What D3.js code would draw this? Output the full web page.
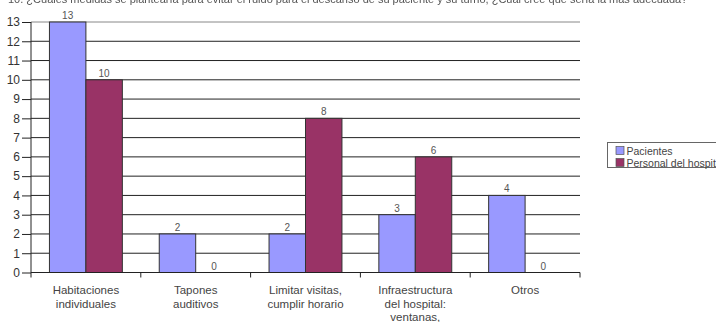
<!DOCTYPE html>
<html>
<head>
<meta charset="utf-8">
<script src="https://cdn.jsdelivr.net/npm/d3@7"></script>
<style>
  html, body { margin: 0; padding: 0; background: #fff; }
  svg { display: block; }
  text { font-family: "Liberation Sans", Arial, sans-serif; }
</style>
</head>
<body>
<svg id="chart" width="716" height="322"></svg>
<script>
// Medidas propuestas para reducir el ruido
const categories = [
  ["Habitaciones", "individuales"],
  ["Tapones", "auditivos"],
  ["Limitar visitas,", "cumplir horario"],
  ["Infraestructura", "del hospital:", "ventanas,"],
  ["Otros"]
];
const seriesNames = ["Pacientes", "Personal del hospital"];
const pacientes = [13, 2, 2, 3, 4];
const personal = [10, 0, 8, 6, 0];
const yTicks = d3.range(0, 14);
const colors = ["#9999ff", "#993366"];

const svg = d3.select("#chart");
const plot = { left: 31, right: 580, top: 22, bottom: 272.5 };

// Question heading, mostly scrolled off the top edge
svg.append("text")
  .attr("x", 8).attr("y", 2.5)
  .attr("font-size", 11).attr("fill", "#555")
  .style("filter", "blur(0.6px)")
  .text("10. ¿Cuáles medidas se plantearía para evitar el ruido para el descanso de su paciente y su turno, ¿Cuál cree que sería la más adecuada?");

const idx = d3.range(categories.length);
const x0 = d3.scaleBand().domain(idx).range([plot.left, plot.right])
  .paddingInner(0.336).paddingOuter(0.168);
const x1 = d3.scaleBand().domain([0, 1]).range([0, x0.bandwidth()]);
const y = d3.scaleLinear().domain([0, 13]).range([plot.bottom, plot.top]);

// Horizontal gridlines
svg.append("g").selectAll("line").data(yTicks.filter(d => d > 0)).join("line")
  .attr("x1", plot.left).attr("x2", plot.right)
  .attr("y1", d => y(d)).attr("y2", d => y(d))
  .attr("stroke", d => d === 13 ? "#888" : "#222").attr("stroke-width", 1);

// Y axis
const yAxis = d3.axisLeft(y).tickValues(yTicks).tickSize(9).tickPadding(2).tickFormat(d3.format("d"));
const gy = svg.append("g").attr("transform", `translate(${plot.left},0)`).call(yAxis);
gy.select(".domain").attr("stroke", "#222").attr("d", `M0,${plot.top}V${plot.bottom + 5}`);
gy.selectAll(".tick line").attr("stroke", "#222").attr("x1", 0);
gy.selectAll(".tick text").attr("font-size", 12).attr("fill", "#333")
  .style("font-family", "'Liberation Sans', Arial, sans-serif");

// Bars
const series = [pacientes, personal];
const groups = svg.append("g").selectAll("g").data(idx).join("g")
  .attr("transform", i => `translate(${x0(i)},0)`);
groups.selectAll("rect").data(i => series.map((s, k) => ({ k, v: s[i] }))).join("rect")
  .attr("x", d => x1(d.k)).attr("width", x1.bandwidth())
  .attr("y", d => y(d.v)).attr("height", d => y(0) - y(d.v))
  .attr("fill", d => colors[d.k])
  .attr("stroke", d => d.v > 0 ? "#333" : "none").attr("stroke-width", 1);
groups.selectAll("text.val").data(i => series.map((s, k) => ({ k, v: s[i] }))).join("text")
  .attr("class", "val")
  .attr("x", d => x1(d.k) + x1.bandwidth() / 2)
  .attr("y", d => y(d.v) - 3)
  .attr("text-anchor", "middle").attr("font-size", 10).attr("fill", "#555")
  .text(d => d.v);

// X axis baseline with category separators
const step = x0.step();
svg.append("line").attr("x1", plot.left).attr("x2", plot.right)
  .attr("y1", y(0)).attr("y2", y(0)).attr("stroke", "#222");
svg.append("g").selectAll("line").data(d3.range(1, categories.length + 1)).join("line")
  .attr("x1", i => plot.left + i * step).attr("x2", i => plot.left + i * step)
  .attr("y1", y(0)).attr("y2", y(0) + 5).attr("stroke", "#222");

// Category labels
svg.append("g").selectAll("text").data(idx).join("text")
  .attr("x", i => x0(i) + x0.bandwidth() / 2)
  .attr("y", 294)
  .attr("text-anchor", "middle").attr("font-size", 11.5).attr("fill", "#444")
  .each(function (i) {
    d3.select(this).selectAll("tspan").data(categories[i]).join("tspan")
      .attr("x", x0(i) + x0.bandwidth() / 2)
      .attr("dy", (d, j) => j === 0 ? 0 : 13.5)
      .text(d => d);
  });

// Legend
const legend = svg.append("g").attr("transform", "translate(607.5,142.5)");
legend.append("rect").attr("width", 130).attr("height", 25)
  .attr("fill", "#fff").attr("stroke", "#666");
const items = legend.selectAll("g").data(seriesNames).join("g")
  .attr("transform", (d, i) => `translate(0,${4 + i * 12})`);
items.append("rect").attr("x", 8.5).attr("y", 0).attr("width", 8).attr("height", 8)
  .attr("fill", (d, i) => colors[i]).attr("stroke", "#555").attr("stroke-width", 0.7);
items.append("text").attr("x", 19).attr("y", 8)
  .attr("font-size", 10.5).attr("fill", "#444").text(d => d);
</script>
</body>
</html>
